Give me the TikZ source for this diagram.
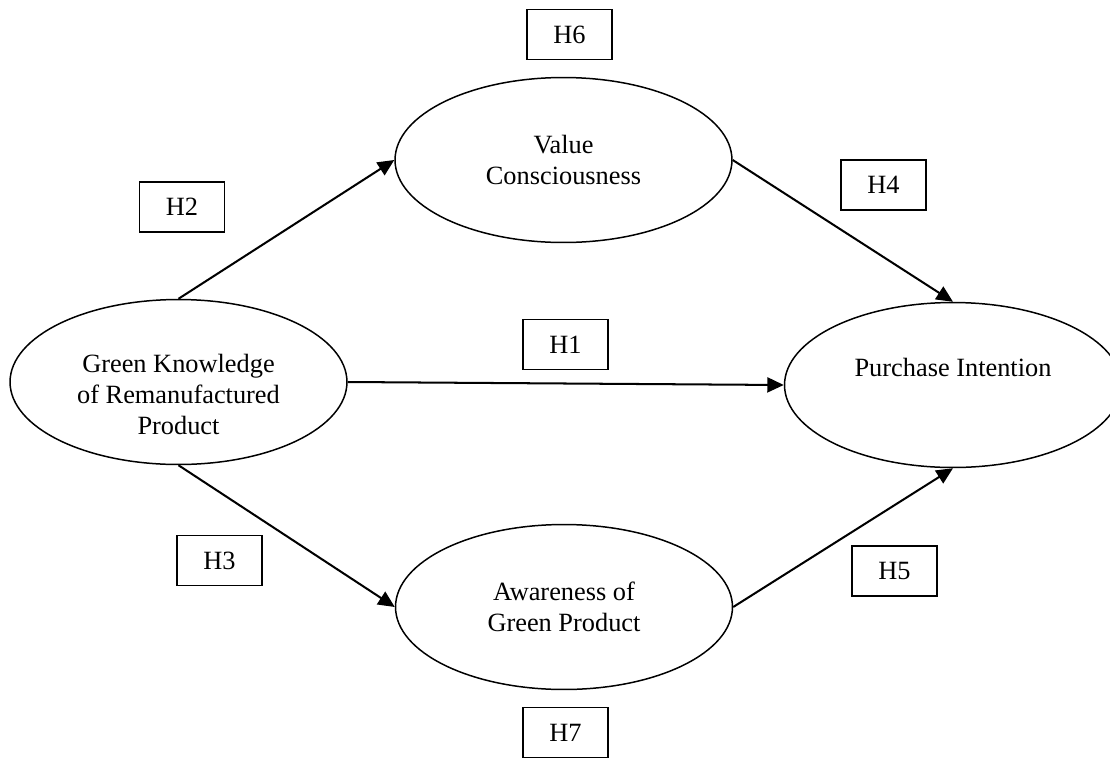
\documentclass[tikz,border=0pt]{standalone}
\usepackage{fontspec}
\setmainfont{Liberation Serif}
\usetikzlibrary{arrows.meta, shapes.geometric}

\tikzset{
  construct/.style={draw, ellipse, line width=0.85pt, inner sep=0pt,
    minimum width=6.74cm, minimum height=3.3cm, align=center,
    font=\fontsize{15}{17.6}\selectfont},
  hyp/.style={draw, rectangle, line width=0.85pt, inner sep=0pt,
    minimum width=1.7cm, minimum height=1cm,
    font=\fontsize{15}{18}\selectfont},
  link/.style={line width=1.15pt, -{Triangle[length=0.33cm, width=0.3cm]}}
}

\begin{document}
\begin{tikzpicture}[x=0.02cm, y=-0.02cm]
  \useasboundingbox (0,0) rectangle (1110,758);
  % Constructs
  \node[construct, text height=60pt, text depth=0pt] (green) at (178.5,382)
    {Green Knowledge\\of Remanufactured\\Product};
  \node[construct] (value) at (563.5,160) {Value\\Consciousness};
  \node[construct] (aware) at (564,607) {Awareness of\\Green Product};
  \node[construct, text depth=20pt] (purchase) at (953,385) {Purchase Intention};
  % Hypotheses
  \draw[link] (green.north) -- (value.west);
  \draw[link] (green.east) -- (purchase.west);
  \draw[link] (green.south) -- (aware.west);
  \draw[link] (value.east) -- (purchase.north);
  \draw[link] (aware.east) -- (purchase.south);
  % Labels
  \node[hyp] (h1) at (565.5,344.5) {H1};
  \node[hyp] (h2) at (182,207) {H2};
  \node[hyp] (h3) at (219.5,560.5) {H3};
  \node[hyp] (h4) at (883.5,185) {H4};
  \node[hyp] (h5) at (894.5,571) {H5};
  \node[hyp] (h6) at (569.5,34.5) {H6};
  \node[hyp] (h7) at (565.5,732.5) {H7};
\end{tikzpicture}
\end{document}
